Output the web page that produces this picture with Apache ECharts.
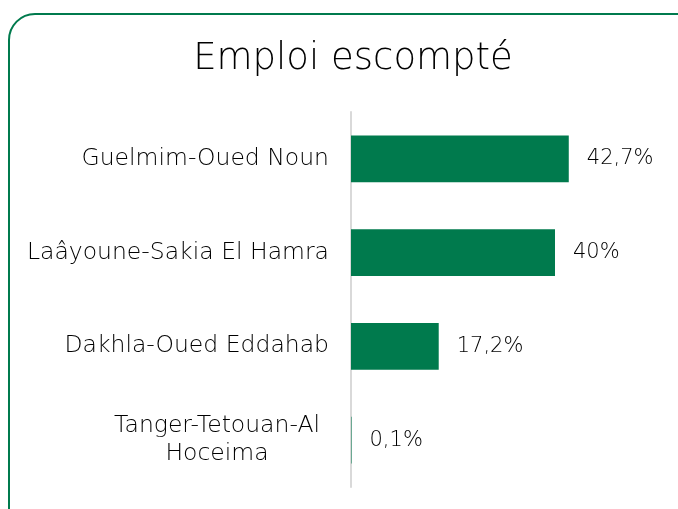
<!DOCTYPE html>
<html>
<head>
<meta charset="utf-8">
<script src="https://cdn.jsdelivr.net/npm/echarts@6/dist/echarts.min.js"></script>
<style>
  html, body { margin: 0; padding: 0; background: #fff; }
  #chart { width: 678px; height: 509px; }
</style>
</head>
<body>
<div id="chart"></div>
<script>
// données
const regions = ['Guelmim-Oued Noun', 'Laâyoune-Sakia El Hamra', 'Dakhla-Oued Eddahab', 'Tanger-Tetouan-Al Hoceima'];
const emploi = [42.7, 40, 17.2, 0.1];
const titre = 'Emploi escompté';

const vert = '#007a4d';
const police = '"DejaVu Sans", sans-serif';

const chart = echarts.init(document.getElementById('chart'));

chart.setOption({
  animation: false,
  title: {
    text: titre,
    left: 348,
    top: 36,
    textAlign: 'center',
    textStyle: { fontFamily: police, fontWeight: 200, fontSize: 37, color: '#000' }
  },
  graphic: [{
    type: 'rect',
    shape: { x: 9, y: 14, width: 720, height: 540, r: 26 },
    style: { fill: 'none', stroke: vert, lineWidth: 2 },
    silent: true
  }],
  grid: { left: 351, top: 112, width: 255, height: 375 },
  xAxis: {
    type: 'value',
    min: 0,
    max: 50,
    show: false
  },
  yAxis: {
    type: 'category',
    inverse: true,
    data: regions,
    axisLine: { lineStyle: { color: '#d9d9d9', width: 2 } },
    axisTick: { show: false },
    axisLabel: {
      margin: 22,
      fontFamily: police,
      fontWeight: 200,
      fontSize: 23.5,
      color: '#000',
      formatter: function (v) {
        if (v === 'Tanger-Tetouan-Al Hoceima') {
          return '{c|Tanger-Tetouan-Al}\n{c|Hoceima}';
        }
        return v;
      },
      rich: {
        c: { width: 224, align: 'center', fontFamily: police, fontWeight: 200, fontSize: 23.5, color: '#000', lineHeight: 28 }
      }
    }
  },
  series: [{
    type: 'bar',
    data: emploi,
    barCategoryGap: '50%',
    itemStyle: { color: vert },
    label: {
      show: true,
      position: 'right',
      distance: 18,
      fontFamily: police,
      fontWeight: 200,
      fontSize: 21,
      color: '#000',
      formatter: function (p) {
        return String(p.value).replace('.', ',') + '%';
      }
    }
  }]
});
</script>
</body>
</html>
